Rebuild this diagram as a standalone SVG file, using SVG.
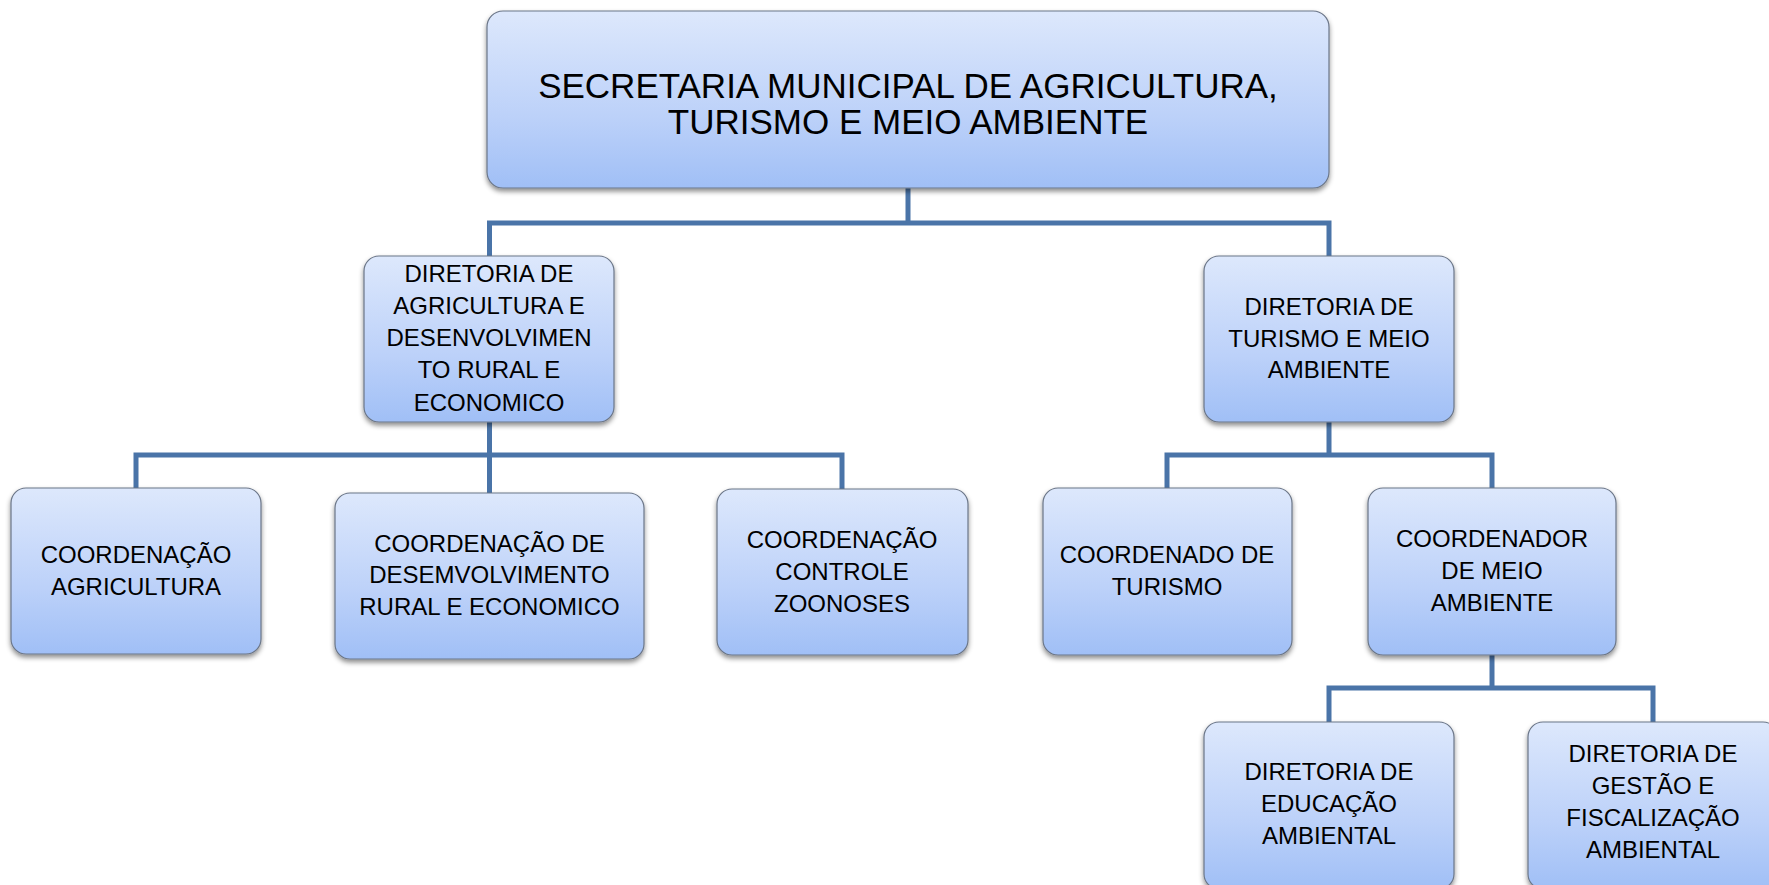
<svg xmlns="http://www.w3.org/2000/svg" width="1769" height="885" viewBox="0 0 1769 885">
<defs>
<linearGradient id="g" x1="0" y1="0" x2="0" y2="1">
<stop offset="0" stop-color="#dde8fc"/>
<stop offset="0.6" stop-color="#bcd1f9"/>
<stop offset="1" stop-color="#a0bff6"/>
</linearGradient>
<filter id="sh" x="-10%" y="-10%" width="120%" height="125%">
<feDropShadow dx="0" dy="3" stdDeviation="2.5" flood-color="#000" flood-opacity="0.45"/>
</filter>
<style>
.box{fill:url(#g);stroke:#6b7688;stroke-width:1.2;filter:url(#sh)}
.t{font-family:"Liberation Sans",Arial,sans-serif;font-size:24px;fill:#000;text-anchor:middle}
.big{font-size:35px}
.c{fill:none;stroke:#4a74a8;stroke-width:5}
</style>
</defs>
<rect width="1769" height="885" fill="#fff"/>
<g id="connectors">
<path class="c" d="M908 188V223M489.5 256V223H1329V256"/>
<path class="c" d="M489.5 422V455M136 488V455H842V489M489.5 455V493"/>
<path class="c" d="M1329 422V455M1167 488V455H1492V488"/>
<path class="c" d="M1492 655V688M1329 722V688H1653V722"/>
</g>
<g id="secretaria">
<rect class="box" x="487" y="11" width="842" height="177" rx="16"/>
<text class="t big" x="908" y="98">SECRETARIA MUNICIPAL DE AGRICULTURA,</text>
<text class="t big" x="908" y="134">TURISMO E MEIO AMBIENTE</text>
</g>
<g id="dir-agricultura">
<rect class="box" x="364" y="256" width="250" height="166" rx="15"/>
<text class="t" x="489" y="282">DIRETORIA DE</text>
<text class="t" x="489" y="314">AGRICULTURA E</text>
<text class="t" x="489" y="346">DESENVOLVIMEN</text>
<text class="t" x="489" y="378">TO RURAL E</text>
<text class="t" x="489" y="411">ECONOMICO</text>
</g>
<g id="dir-turismo">
<rect class="box" x="1204" y="256" width="250" height="166" rx="15"/>
<text class="t" x="1329" y="315">DIRETORIA DE</text>
<text class="t" x="1329" y="347">TURISMO E MEIO</text>
<text class="t" x="1329" y="378">AMBIENTE</text>
</g>
<g id="coord-agricultura">
<rect class="box" x="11" y="488" width="250" height="166" rx="15"/>
<text class="t" x="136" y="563">COORDENAÇÃO</text>
<text class="t" x="136" y="595">AGRICULTURA</text>
</g>
<g id="coord-desenvolvimento">
<rect class="box" x="335" y="493" width="309" height="166" rx="15"/>
<text class="t" x="489.5" y="552">COORDENAÇÃO DE</text>
<text class="t" x="489.5" y="583">DESEMVOLVIMENTO</text>
<text class="t" x="489.5" y="615">RURAL E ECONOMICO</text>
</g>
<g id="coord-zoonoses">
<rect class="box" x="717" y="489" width="251" height="166" rx="15"/>
<text class="t" x="842" y="548">COORDENAÇÃO</text>
<text class="t" x="842" y="580">CONTROLE</text>
<text class="t" x="842" y="612">ZOONOSES</text>
</g>
<g id="coord-turismo">
<rect class="box" x="1043" y="488" width="249" height="167" rx="15"/>
<text class="t" x="1167" y="563">COORDENADO DE</text>
<text class="t" x="1167" y="595">TURISMO</text>
</g>
<g id="coord-meio-ambiente">
<rect class="box" x="1368" y="488" width="248" height="167" rx="15"/>
<text class="t" x="1492" y="547">COORDENADOR</text>
<text class="t" x="1492" y="579">DE MEIO</text>
<text class="t" x="1492" y="611">AMBIENTE</text>
</g>
<g id="dir-educacao">
<rect class="box" x="1204" y="722" width="250" height="167" rx="15"/>
<text class="t" x="1329" y="780">DIRETORIA DE</text>
<text class="t" x="1329" y="812">EDUCAÇÃO</text>
<text class="t" x="1329" y="844">AMBIENTAL</text>
</g>
<g id="dir-gestao">
<rect class="box" x="1528" y="722" width="250" height="167" rx="15"/>
<text class="t" x="1653" y="762">DIRETORIA DE</text>
<text class="t" x="1653" y="794">GESTÃO E</text>
<text class="t" x="1653" y="826">FISCALIZAÇÃO</text>
<text class="t" x="1653" y="858">AMBIENTAL</text>
</g>
</svg>
